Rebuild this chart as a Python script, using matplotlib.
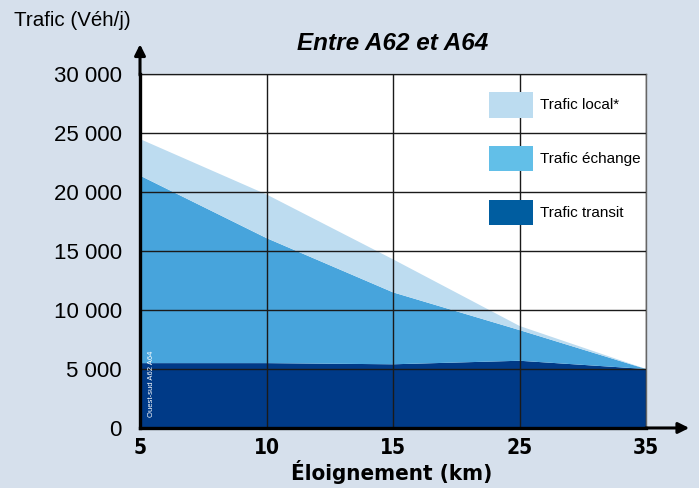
import matplotlib
matplotlib.use("Agg")
import matplotlib.pyplot as plt
from matplotlib.patches import Rectangle

# distance categories (km) and stacked traffic components (veh/day)
distances = ["5", "10", "15", "25", "35"]
transit = [5500, 5500, 5400, 5700, 5000]
echange = [15900, 10600, 6100, 2600, 0]
local = [3100, 3700, 2800, 350, 0]
y_ticks = [0, 5000, 10000, 15000, 20000, 25000, 30000]

bg = "#d6e0ec"
area_colors = ["#003a87", "#47a4dc", "#bddcf0"]
legend_colors = ["#bcdcf0", "#62bfe8", "#005da0"]
legend_labels = ["Trafic local*", "Trafic échange", "Trafic transit"]

cond = dict(family="DejaVu Sans", fontstretch="condensed", fontweight="bold")

fig = plt.figure(figsize=(6.99, 4.88), dpi=100, facecolor=bg)
ax = fig.add_axes([0.2003, 0.123, 0.724, 0.725])
ax.set_facecolor("white")

x = list(range(len(distances)))
ax.stackplot(x, transit, echange, local, colors=area_colors, linewidth=0)

ax.set_xlim(0, len(distances) - 1)
ax.set_ylim(0, 30000)
ax.set_xticks(x)
ax.set_xticklabels(distances, fontsize=15, **cond)
ax.set_yticks(y_ticks)
ax.set_yticklabels([f"{v:,}".replace(",", " ") for v in y_ticks], family="Liberation Sans", fontsize=16)
ax.tick_params(length=0, pad=7)
ax.tick_params(axis="y", pad=13)

ax.set_axisbelow(False)
ax.grid(True, color="#1a1a1a", linewidth=1)

for s in ["top", "right"]:
    ax.spines[s].set_color("#666666")
    ax.spines[s].set_linewidth(1)
for s in ["left", "bottom"]:
    ax.spines[s].set_linewidth(2.4)
    ax.spines[s].set_zorder(5)

# axis arrows
ax.annotate("", xy=(0.2003, 0.915), xytext=(0.2003, 0.84), xycoords="figure fraction",
            arrowprops=dict(arrowstyle="-|>", color="black", lw=2.2, mutation_scale=16))
ax.annotate("", xy=(0.99, 0.123), xytext=(0.92, 0.123), xycoords="figure fraction",
            arrowprops=dict(arrowstyle="-|>", color="black", lw=2.2, mutation_scale=16))

fig.text(0.561, 0.91, "Entre A62 et A64", fontsize=17.5, fontweight="bold", style="italic",
         family="Liberation Sans", ha="center", va="center")
fig.text(0.02, 0.958, "Trafic (Véh/j)", fontsize=14.8, family="Liberation Sans", va="center")
fig.text(0.561, 0.032, "Éloignement (km)", fontsize=16, ha="center", va="center", **cond)

ax.text(0.022, 0.03, "Ouest-sud A62 A64", transform=ax.transAxes, rotation=90,
        color="white", fontsize=5.5, family="Liberation Sans", va="bottom", ha="center")

# legend
for i, (c, lab) in enumerate(zip(legend_colors, legend_labels)):
    yb = 0.877 - i * 0.152
    ax.add_patch(Rectangle((0.689, yb), 0.088, 0.072, transform=ax.transAxes,
                           facecolor=c, edgecolor="none", zorder=6))
    ax.text(0.790, yb + 0.036, lab, transform=ax.transAxes, fontsize=11,
            family="Liberation Sans", va="center", zorder=6)

fig.savefig("out.png", dpi=100, facecolor=bg)
